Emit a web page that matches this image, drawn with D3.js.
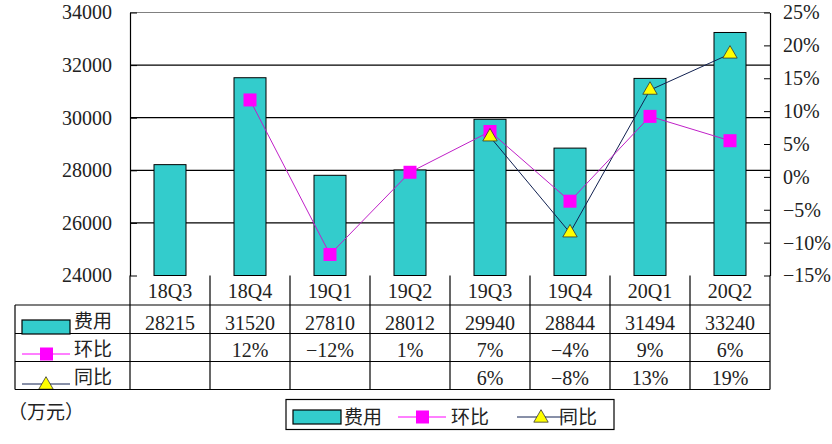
<!DOCTYPE html>
<html>
<head>
<meta charset="utf-8">
<script src="https://cdn.jsdelivr.net/npm/d3@7"></script>
<style>
  body { margin: 0; background: #fff; }
  svg text { font-family: "Liberation Serif", "Noto Sans CJK SC", serif; fill: #222; }
  .cjk { font-family: "Noto Sans CJK SC", sans-serif; }
</style>
</head>
<body>
<div id="chart"></div>
<script>
// data
const quarters = ['18Q3', '18Q4', '19Q1', '19Q2', '19Q3', '19Q4', '20Q1', '20Q2'];
const cost = [28215, 31520, 27810, 28012, 29940, 28844, 31494, 33240];
const qoq = [null, 11.7, -11.8, 0.7, 6.9, -3.7, 9.2, 5.5];
const yoy = [null, null, null, null, 6.1, -8.5, 13.2, 18.7];
const leftTicks = [24000, 26000, 28000, 30000, 32000, 34000];
const rightTicks = [-15, -10, -5, 0, 5, 10, 15, 20, 25];

const W = 832, H = 444;
const plot = { left: 130, right: 770, top: 12.5, bottom: 275.5 };
const rows = [305, 333.5, 361.5, 389.5];   // table row boundaries
const tableLeft = 15;

const barColor = '#33CCCC', qoqColor = '#FF00FF', qoqLine = '#C020C8',
      yoyColor = '#FFFF00', yoyLine = '#102050';

const svg = d3.select('#chart').append('svg')
    .attr('width', W).attr('height', H);

const x = d3.scaleBand().domain(quarters).range([plot.left, plot.right]);
const yL = d3.scaleLinear().domain([24000, 34000]).range([plot.bottom, plot.top]);
const yR = d3.scaleLinear().domain([-15, 25]).range([plot.bottom, plot.top]);
const barW = x.bandwidth() * 0.4;

// grid
svg.append('g').selectAll('line')
    .data(leftTicks.slice(1, -1))
    .join('line')
    .attr('x1', plot.left).attr('x2', plot.right)
    .attr('y1', d => yL(d)).attr('y2', d => yL(d))
    .attr('stroke', '#000').attr('stroke-width', 1.2);
svg.append('line')
    .attr('x1', plot.left).attr('x2', plot.right)
    .attr('y1', plot.top).attr('y2', plot.top)
    .attr('stroke', '#808080').attr('stroke-width', 1);

// bars
svg.append('g').selectAll('rect')
    .data(cost)
    .join('rect')
    .attr('x', (d, i) => x(quarters[i]) + (x.bandwidth() - barW) / 2)
    .attr('y', d => yL(d))
    .attr('width', barW)
    .attr('height', d => plot.bottom - yL(d))
    .attr('fill', barColor)
    .attr('stroke', '#000').attr('stroke-width', 1);

// axes
const axL = svg.append('g')
    .attr('transform', `translate(${plot.left},0)`)
    .call(d3.axisLeft(yL).tickValues(leftTicks).tickSize(-7).tickSizeOuter(0).tickPadding(18).tickFormat(d3.format('d')));
const axR = svg.append('g')
    .attr('transform', `translate(${plot.right},0)`)
    .call(d3.axisRight(yR).tickValues(rightTicks).tickSize(-6).tickSizeOuter(0).tickPadding(13).tickFormat(d => d3.format('d')(d) + '%'));
[axL, axR].forEach(a => {
    a.select('.domain').attr('stroke', '#000').attr('stroke-width', 1.2);
    a.selectAll('.tick line').attr('stroke', '#000');
    a.selectAll('.tick text').attr('font-size', 20).attr('fill', '#222')
        .attr('font-family', '"Liberation Serif", serif');
});

// lines + markers
const cx = q => x(q) + x.bandwidth() / 2;
const lineQ = d3.line().defined(d => d != null).x((d, i) => cx(quarters[i])).y(d => yR(d));

svg.append('path').datum(yoy)
    .attr('d', lineQ).attr('fill', 'none').attr('stroke', yoyLine).attr('stroke-width', 1);
svg.append('path').datum(qoq)
    .attr('d', lineQ).attr('fill', 'none').attr('stroke', qoqLine).attr('stroke-width', 1);

const sq = 13;
svg.append('g').selectAll('rect')
    .data(qoq.map((v, i) => [quarters[i], v]).filter(d => d[1] != null))
    .join('rect')
    .attr('x', d => cx(d[0]) - sq / 2).attr('y', d => yR(d[1]) - sq / 2)
    .attr('width', sq).attr('height', sq)
    .attr('fill', qoqColor);

const tri = d3.symbol().type(d3.symbolTriangle).size(90);
svg.append('g').selectAll('path')
    .data(yoy.map((v, i) => [quarters[i], v]).filter(d => d[1] != null))
    .join('path')
    .attr('d', tri)
    .attr('transform', d => `translate(${cx(d[0])},${yR(d[1])})`)
    .attr('fill', yoyColor).attr('stroke', '#333').attr('stroke-width', 0.8);

// data table
const tbl = svg.append('g');
const hl = (x1, x2, y) => tbl.append('line').attr('x1', x1).attr('x2', x2).attr('y1', y).attr('y2', y)
    .attr('stroke', '#000').attr('stroke-width', 1.2);
const vl = (xx, y1, y2) => tbl.append('line').attr('x1', xx).attr('x2', xx).attr('y1', y1).attr('y2', y2)
    .attr('stroke', '#000').attr('stroke-width', 1.2);

rows.forEach(r => hl(tableLeft, plot.right, r));
vl(tableLeft, rows[0], rows[3]);
vl(plot.left, plot.bottom, rows[3]);
quarters.forEach(q => vl(x(q) + x.bandwidth(), plot.bottom, rows[3]));

tbl.selectAll('text.cat')
    .data(quarters)
    .join('text')
    .attr('class', 'cat')
    .attr('x', d => cx(d)).attr('y', 298)
    .attr('text-anchor', 'middle').attr('font-size', 20)
    .text(d => d);

const pct = d => d == null ? '' : d3.format('d')(Math.round(d)) + '%';
const rowData = [
    { vals: cost.map(d => d3.format('d')(d)), base: 330 },
    { vals: qoq.map(pct), base: 357 },
    { vals: yoy.map(pct), base: 385 }
];
rowData.forEach(r => {
    tbl.append('g').selectAll('text')
        .data(r.vals)
        .join('text')
        .attr('x', (d, i) => cx(quarters[i])).attr('y', r.base)
        .attr('text-anchor', 'middle').attr('font-size', 20)
        .text(d => d);
});

// legend keys in table
const names = ['费用', '环比', '同比'];
function key(g, kind, x0, yMid) {
    if (kind === 0) {
        g.append('rect').attr('x', x0).attr('y', yMid - 7).attr('width', 48).attr('height', 14)
            .attr('fill', barColor).attr('stroke', '#000').attr('stroke-width', 1.2);
    } else if (kind === 1) {
        g.append('line').attr('x1', x0).attr('x2', x0 + 48).attr('y1', yMid).attr('y2', yMid)
            .attr('stroke', qoqColor).attr('stroke-width', 1);
        g.append('rect').attr('x', x0 + 18).attr('y', yMid - 6.5).attr('width', 13).attr('height', 13)
            .attr('fill', qoqColor);
    } else {
        g.append('line').attr('x1', x0).attr('x2', x0 + 48).attr('y1', yMid).attr('y2', yMid)
            .attr('stroke', yoyLine).attr('stroke-width', 1);
        g.append('path').attr('d', tri).attr('transform', `translate(${x0 + 24},${yMid + 1})`)
            .attr('fill', yoyColor).attr('stroke', '#333').attr('stroke-width', 0.8);
    }
}
const keyMid = [327, 354, 384];
names.forEach((n, i) => {
    key(tbl, i, 22, keyMid[i]);
    tbl.append('text').attr('class', 'cjk').attr('x', 74).attr('y', rows[i + 1] - 6)
        .attr('font-size', 19).text(n);
});
// clip triangle under row border
hl(tableLeft, plot.right, rows[3]);

// unit
svg.append('text').attr('class', 'cjk').attr('x', 8).attr('y', 419)
    .attr('font-size', 19).text('（万元）');

// bottom legend
const lg = svg.append('g');
lg.append('rect').attr('x', 286).attr('y', 399.5).attr('width', 328).attr('height', 30)
    .attr('fill', '#fff').attr('stroke', '#000').attr('stroke-width', 1.2);
const lgX = [293, 398, 517];
const lgTx = [344, 451, 559];
names.forEach((n, i) => {
    key(lg, i, lgX[i], 417);
    lg.append('text').attr('class', 'cjk').attr('x', lgTx[i]).attr('y', 424)
        .attr('font-size', 19).text(n);
});
</script>
</body>
</html>
